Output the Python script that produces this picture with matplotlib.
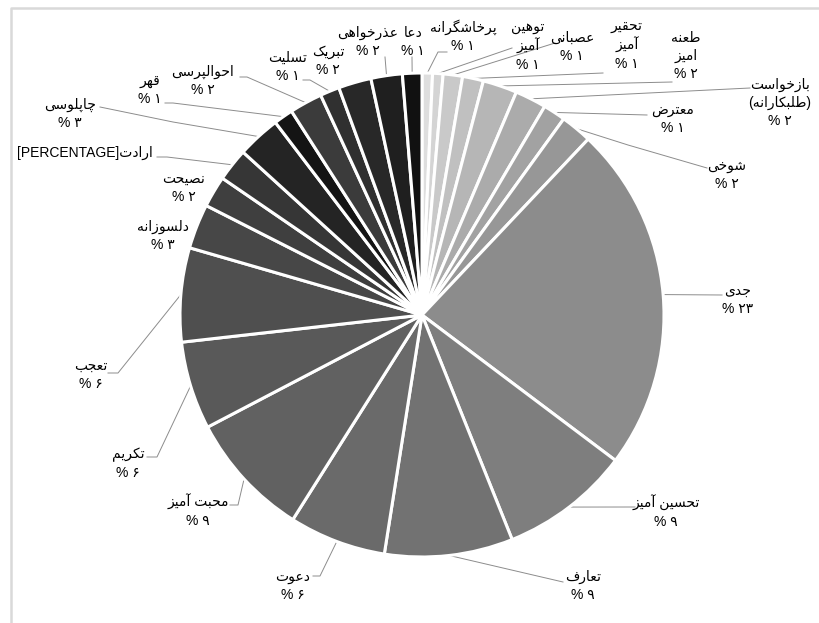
import numpy as np
import matplotlib
matplotlib.use("Agg")
import matplotlib.pyplot as plt

plt.rcParams['font.family'] = ['Liberation Sans', 'DejaVu Sans']

# slices, clockwise from 12 o'clock
names = ["پرخاشگرانه", "توهین\nآمیز", "عصبانی", "تحقیر\nآمیز", "طعنه\nامیز",
         "بازخواست\n(طلبکارانه)", "معترض", "شوخی", "جدی", "تحسین آمیز",
         "تعارف", "دعوت", "محبت آمیز", "تکریم", "تعجب", "دلسوزانه", "نصیحت",
         "ارادت", "چاپلوسی", "قهر", "احوالپرسی", "تسلیت", "تبریک", "عذرخواهی", "دعا"]
values = [0.7, 0.7, 1.3, 1.4, 2.3, 2.1, 1.5, 2.1, 23.3, 8.7, 8.6, 6.5, 8.4,
          5.9, 6.3, 3.0, 2.1, 2.2, 2.9, 1.3, 2.2, 1.3, 2.2, 2.1, 1.3]
shown_pct = [1, 1, 1, 1, 2, 2, 1, 2, 23, 9, 9, 6, 9, 6, 6, 3, 2, None,
             3, 1, 2, 1, 2, 2, 1]
colors = ['#dedede', '#d4d4d4', '#c9c9c9', '#c0c0c0', '#b6b6b6', '#ababab',
          '#a2a2a2', '#979797', '#8c8c8c', '#7e7e7e', '#727272', '#6a6a6a',
          '#616161', '#595959', '#4f4f4f', '#474747', '#3f3f3f', '#363636',
          '#242424', '#141414', '#3b3b3b', '#303030', '#282828', '#1f1f1f',
          '#111111']

# label layout in pixels (y down): block centre, then leader waypoints
label_pos = [(463, 36), (528, 46), (572, 47), (627, 45), (686, 56),
             (780, 103), (673, 119), (727, 175), (738, 300), (666, 512),
             (583, 586), (293, 586), (198, 511), (128, 464), (91, 375),
             (163, 236), (184, 188), (85, 153), (70, 114), (150, 90),
             (203, 81), (288, 67), (328, 61), (368, 42), (413, 42)]
leaders = [[(438, 52), (447, 52)], [(512, 48)], [(555, 43)], [(603, 73)],
           [(672, 82)], [(750, 88)], [(647, 115)], [(628, 145), (707, 168)],
           [(722, 295)], [(635, 507)], [(563, 582)], [(320, 576), (313, 576)],
           [(238, 505), (230, 505)], [(157, 457), (147, 457)],
           [(118, 373), (108, 373)], [], [], [(167, 157), (157, 157)],
           [(173, 122), (100, 107)], [(173, 103), (165, 103)],
           [(247, 77), (240, 77)], [(310, 80), (303, 80)], [],
           [(385, 57)], [(412, 57)]]

# --- minimal persian shaping (matplotlib has no bidi / joining) ---
DUAL = {'ب': 0xFE8F, 'پ': 0xFB56, 'ت': 0xFE95, 'ث': 0xFE99, 'ج': 0xFE9D,
        'چ': 0xFB7A, 'ح': 0xFEA1, 'خ': 0xFEA5, 'س': 0xFEB1, 'ش': 0xFEB5,
        'ص': 0xFEB9, 'ض': 0xFEBD, 'ط': 0xFEC1, 'ظ': 0xFEC5, 'ع': 0xFEC9,
        'غ': 0xFECD, 'ف': 0xFED1, 'ق': 0xFED5, 'ک': 0xFB8E, 'گ': 0xFB92,
        'ل': 0xFEDD, 'م': 0xFEE1, 'ن': 0xFEE5, 'ه': 0xFEE9, 'ی': 0xFBFC}
RIGHT = {'ا': 0xFE8D, 'آ': 0xFE81, 'د': 0xFEA9, 'ذ': 0xFEAB, 'ر': 0xFEAD,
         'ز': 0xFEAF, 'ژ': 0xFB8A, 'و': 0xFEED}
MIRROR = {'(': ')', ')': '('}
FA_DIGITS = str.maketrans('0123456789', '۰۱۲۳۴۵۶۷۸۹')


def shape_line(s):
    out = []
    for i, ch in enumerate(s):
        prev = s[i - 1] if i > 0 else ''
        nxt = s[i + 1] if i < len(s) - 1 else ''
        jp = prev in DUAL and (ch in DUAL or ch in RIGHT)
        jn = ch in DUAL and (nxt in DUAL or nxt in RIGHT)
        if ch in DUAL:
            out.append(chr(DUAL[ch] + (3 if jp and jn else 1 if jp else 2 if jn else 0)))
        elif ch in RIGHT:
            out.append(chr(RIGHT[ch] + (1 if jp else 0)))
        else:
            out.append(MIRROR.get(ch, ch))
    return ''.join(reversed(out))


W, H = 819, 623
fig = plt.figure(figsize=(W / 100, H / 100), dpi=100)
ax = fig.add_axes([0, 0, 1, 1])

cx, cy, R = 422, H - 315, 242
wedges, _ = ax.pie(values, colors=colors, startangle=90, counterclock=False,
                   center=(cx, cy), radius=R,
                   wedgeprops=dict(edgecolor='white', linewidth=2.2))
ax.set_xlim(0, W)
ax.set_ylim(0, H)
ax.set_aspect('equal')
ax.axis('off')

for i, w in enumerate(wedges):
    lines = [shape_line(t) for t in names[i].split('\n')]
    if shown_pct[i] is None:
        lines[-1] = '[PERCENTAGE]' + lines[-1]
    else:
        lines.append('% ' + str(shown_pct[i]).translate(FA_DIGITS))
    tx, ty = label_pos[i]
    ax.text(tx, H - ty, '\n'.join(lines), ha='center', va='center',
            fontsize=10, linespacing=1.35, color='black')
    if leaders[i]:
        mid = np.deg2rad((w.theta1 + w.theta2) / 2)
        pts = [(cx + R * np.cos(mid), cy + R * np.sin(mid))]
        pts += [(x, H - y) for x, y in leaders[i]]
        ax.plot([p[0] for p in pts], [p[1] for p in pts], color='#8c8c8c',
                lw=0.7, zorder=0)

# chart frame (only top and left edges fall inside the picture)
ax.plot([11, 11, W], [0, H - 8, H - 8], color='#d9d9d9', lw=1.8, clip_on=False)

fig.savefig('out.png', dpi=100)
